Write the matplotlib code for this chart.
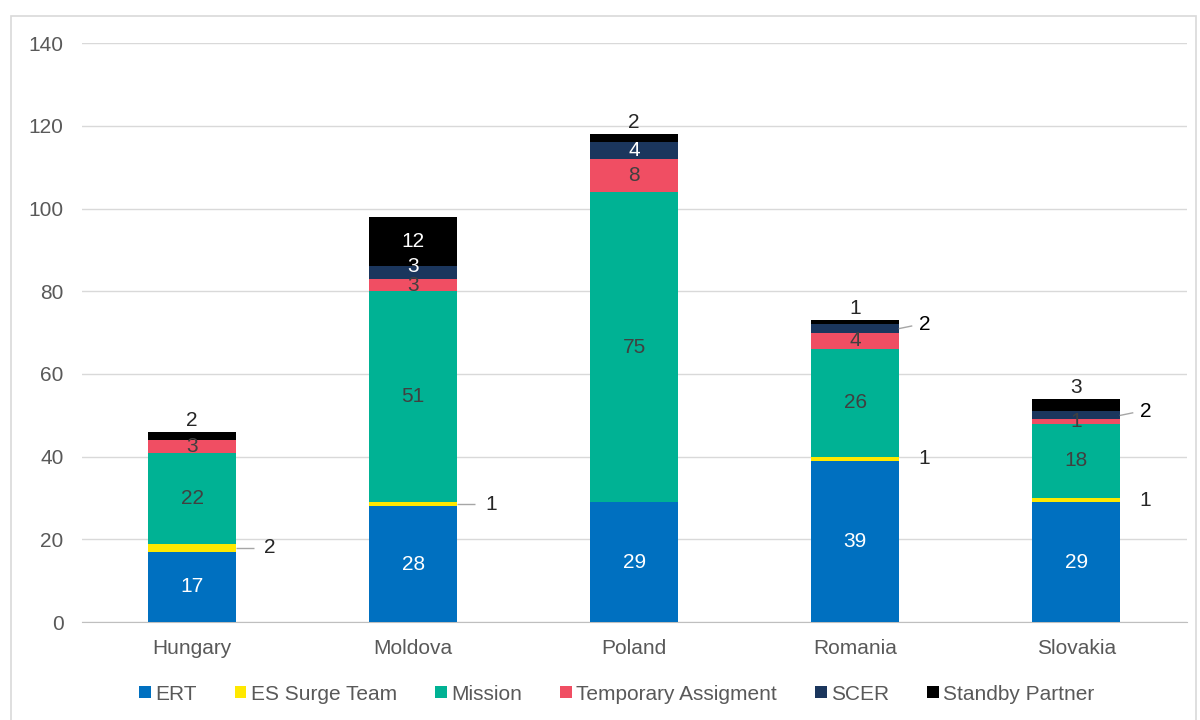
"""Stacked bar chart of deployments by country and mechanism
"""

import numpy as np
import matplotlib as mpl  # noqa
from matplotlib import pyplot as plt

plt.rcParams['font.family'] = ['Liberation Sans', 'DejaVu Sans']

countries = ['Hungary', 'Moldova', 'Poland', 'Romania', 'Slovakia']
series = ['ERT', 'ES Surge Team', 'Mission', 'Temporary Assigment', 'SCER', 'Standby Partner']
ert = [17, 28, 29, 39, 29]
es_surge = [2, 1, 0, 1, 1]
mission = [22, 51, 75, 26, 18]
temp_assign = [3, 3, 8, 4, 1]
scer = [0, 3, 4, 2, 2]
standby = [2, 12, 2, 1, 3]

colors = ['#0070C0', '#FFE800', '#00B294', '#F04E63', '#1B365D', '#000000']
# label colour inside each segment
label_colors = ['white', None, '#404040', '#404040', 'white', 'white']

TICK_GRAY = '#595959'
LEADER = '#A6A6A6'
FS_VAL = 15


def stacked_labels(ax, xx, bottoms, vals, width, idx, ci):
    """Label one segment: inside for big ones, outside (with a leader) for thin ones."""
    val = vals[ci]
    if val == 0:
        return
    x = xx[ci]
    mid = bottoms[ci] + val / 2.0
    top = bottoms[ci] + val
    name = series[idx]
    country = countries[ci]
    x0 = x + width / 2.0
    kw = dict(fontsize=FS_VAL, zorder=6)

    if name == 'ES Surge Team':
        if country in ('Hungary', 'Moldova'):
            ax.plot([x0, x0 + 0.08], [mid, mid], color=LEADER, lw=1.0,
                    solid_capstyle='butt', clip_on=False, zorder=4)
            xt = x0 + 0.125
        else:
            xt = x0 + 0.085
        ax.text(xt, mid, str(val), ha='left', va='center', color='#262626', **kw)
        return
    if name == 'SCER' and country in ('Romania', 'Slovakia'):
        ax.plot([x0, x0 + 0.055], [mid, mid + 0.6], color=LEADER, lw=1.0, clip_on=False,
                zorder=4)
        ax.text(x0 + 0.09, mid + 0.9, str(val), ha='left', va='center', color='#000000',
                **kw)
        return
    if name == 'Standby Partner' and country != 'Moldova':
        ax.text(x, top + 0.5, str(val), ha='center', va='bottom', color='#262626', **kw)
        return
    if name == 'SCER' and val <= 3:
        # nudge up so it clears the label beneath
        mid += 1.5
    ax.text(x, mid, str(val), ha='center', va='center', color=label_colors[idx], **kw)


def main():
    data = np.array([ert, es_surge, mission, temp_assign, scer, standby], dtype=float)
    xx = np.arange(len(countries))
    width = 0.4

    fig = plt.figure(figsize=(12, 7.2), dpi=100)
    ax = fig.add_axes([0.068, 0.136, 0.921, 0.804])

    bottoms = np.zeros(len(countries))
    for ii, name in enumerate(series):
        ax.bar(xx, data[ii], width, bottom=bottoms, color=colors[ii], label=name,
               zorder=3, linewidth=0)
        for ci in range(len(countries)):
            stacked_labels(ax, xx, bottoms, data[ii].astype(int), width, ii, ci)
        bottoms = bottoms + data[ii]

    ax.set_xlim(-0.5, len(countries) - 0.5)
    ax.set_ylim(0, 140)
    ax.set_yticks(np.arange(0, 141, 20))
    ax.set_xticks(xx)
    ax.set_xticklabels(countries)
    ax.yaxis.grid(True, color='#D9D9D9', lw=1.0, zorder=0)
    ax.set_axisbelow(True)
    for side in ['top', 'right', 'left']:
        ax.spines[side].set_visible(False)
    ax.spines['bottom'].set_color('#BFBFBF')
    ax.tick_params(axis='both', length=0, labelsize=15, colors=TICK_GRAY)
    ax.tick_params(axis='y', pad=13)
    ax.tick_params(axis='x', pad=12)

    leg = fig.legend(loc='center', bbox_to_anchor=(0.514, 0.036), ncol=6, frameon=False,
                     fontsize=15, handlelength=0.55, handleheight=0.55, handletextpad=0.2,
                     columnspacing=1.85)
    for txt in leg.get_texts():
        txt.set_color(TICK_GRAY)

    # light frame around the whole chart
    frame = plt.Rectangle((0.009, -0.01), 0.988, 0.988, transform=fig.transFigure,
                          fill=False, edgecolor='#D9D9D9', lw=1.2)
    fig.patches.append(frame)

    fig.savefig('out.png', dpi=100, facecolor='white')
    plt.close('all')


if __name__ == '__main__':
    main()
